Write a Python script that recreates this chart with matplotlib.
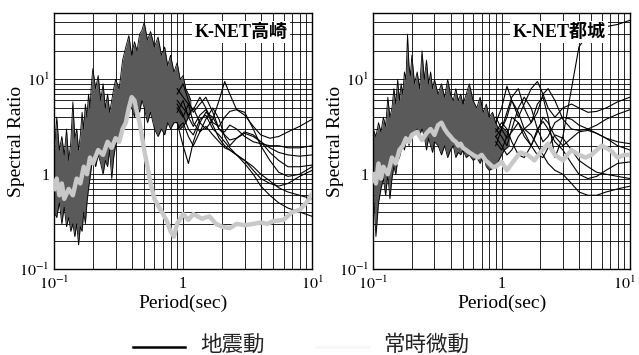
import matplotlib
matplotlib.use("Agg")
import matplotlib.pyplot as plt
from matplotlib.lines import Line2D
from matplotlib.transforms import ScaledTranslation

plt.rcParams['font.family'] = ['Liberation Serif', 'Noto Sans CJK JP']
plt.rcParams['mathtext.fontset'] = 'stix'

# periods (sec) of the dense short-period band
band_T = [0.10, 0.105, 0.11, 0.115, 0.12, 0.125, 0.13, 0.135, 0.14, 0.145,
          0.15, 0.155, 0.16, 0.165, 0.17, 0.175, 0.18, 0.185, 0.19, 0.195,
          0.20, 0.21, 0.22, 0.23, 0.24, 0.25, 0.26, 0.27, 0.28, 0.29,
          0.30, 0.32, 0.34, 0.36, 0.38, 0.40, 0.42, 0.44, 0.46, 0.48,
          0.50, 0.53, 0.56, 0.60, 0.64, 0.68, 0.72, 0.76, 0.80, 0.85,
          0.90, 0.95, 1.00, 1.05, 1.10, 1.15]

# Takasaki - earthquake band envelope
tk_band_hi = [1.5, 4.0, 1.8, 2.5, 1.6, 3.0, 1.4, 2.2, 5.8, 2.4,
              3.0, 1.8, 2.6, 4.5, 3.0, 5.5, 4.0, 7.0, 5.0, 9.0,
              13, 8, 11, 6, 9, 5, 7, 4.5, 6, 8,
              10, 8, 16, 22, 29, 18, 25, 20, 30, 33,
              40, 26, 32, 22, 28, 18, 22, 14, 18, 12,
              15, 10, 11, 8, 7, 6]
tk_band_lo = [0.4, 0.35, 0.5, 0.3, 0.45, 0.28, 0.35, 0.25, 0.3, 0.22,
              0.3, 0.18, 0.28, 0.25, 0.4, 0.3, 0.5, 0.7, 0.9, 1.2,
              1.5, 1.2, 1.6, 1.3, 1.0, 1.4, 1.2, 1.8, 0.9, 1.5,
              2.0, 2.5, 3.0, 4.0, 5.0, 5.0, 4.0, 5.5, 4.5, 6.0,
              5.0, 3.5, 4.5, 3.0, 2.5, 3.0, 2.6, 3.5, 3.0, 3.5,
              3.5, 3.0, 3.2, 3.5, 4.0, 4.5]

# Miyakonojo - earthquake band envelope
my_band_hi = [3.0, 2.5, 3.5, 2.8, 4.0, 3.2, 6.5, 4.0, 5.0, 8.0,
              5.5, 10, 6.0, 9.0, 7.0, 12, 10, 30, 14, 11,
              18, 9, 12, 8, 20, 10, 16, 9, 12, 8,
              10, 7, 9, 6.5, 10, 7, 6, 8, 6, 7,
              5.5, 7, 9, 6, 5, 6.5, 4.5, 5.5, 4, 4.5,
              3.5, 3.0, 3.2, 3.0, 2.8, 2.6]
my_band_lo = [0.8, 0.22, 0.5, 0.7, 0.9, 0.6, 1.0, 0.55, 0.9, 1.2,
              1.0, 1.4, 1.5, 1.8, 2.0, 1.8, 2.2, 2.5, 2.0, 2.6,
              2.4, 2.8, 3.0, 2.6, 3.0, 2.5, 1.8, 2.4, 2.0, 1.7,
              2.2, 2.0, 1.6, 2.0, 1.5, 1.8, 2.0, 1.5, 1.7, 1.6,
              1.8, 1.5, 1.6, 1.4, 1.5, 1.3, 1.6, 1.2, 1.1, 1.15,
              1.2, 1.4, 1.6, 1.8, 1.9, 2.0]

# periods of the individual long-period earthquake curves
long_T = [0.9, 1.0, 1.1, 1.2, 1.35, 1.5, 1.7, 1.9, 2.1, 2.3,
          2.6, 3.0, 3.5, 4.0, 4.7, 5.5, 6.5, 8.0, 10.0]

tk_long = [
    [6.0, 5.0, 4.2, 5.0, 3.5, 3.0, 3.8, 6.0, 9.5, 7.0, 4.8, 4.5, 3.0, 2.0, 1.4, 1.05, 0.95, 1.0, 1.2],
    [8.0, 6.5, 5.5, 4.8, 6.5, 5.0, 3.5, 3.2, 4.0, 4.6, 4.8, 4.2, 3.2, 2.6, 2.4, 2.5, 2.8, 3.2, 3.8],
    [3.5, 2.0, 1.3, 2.2, 3.5, 4.5, 4.0, 3.0, 2.6, 2.3, 2.4, 2.8, 2.6, 2.2, 1.7, 1.4, 1.2, 1.2, 1.25],
    [7.0, 9.0, 6.0, 4.5, 5.5, 6.5, 4.5, 3.0, 2.8, 3.3, 3.0, 2.5, 2.2, 2.1, 2.0, 2.0, 1.9, 1.9, 2.0],
    [5.0, 4.0, 5.5, 3.5, 2.8, 3.8, 5.0, 3.8, 2.5, 2.0, 2.4, 2.7, 2.5, 2.2, 1.9, 1.7, 1.6, 1.55, 1.6],
    [4.5, 6.0, 4.0, 3.2, 4.2, 4.8, 3.3, 2.4, 2.0, 1.8, 1.6, 1.4, 1.2, 1.0, 0.85, 0.72, 0.65, 0.6, 0.55],
    [3.0, 3.5, 2.5, 2.0, 2.8, 3.2, 2.6, 2.2, 1.9, 1.8, 1.6, 1.3, 1.0, 0.75, 0.6, 0.5, 0.44, 0.4, 0.36],
    [5.5, 4.2, 3.0, 2.6, 3.8, 4.2, 3.0, 2.6, 2.2, 1.9, 1.6, 1.4, 1.1, 0.9, 0.8, 0.75, 0.8, 0.95, 1.1],
]

my_long = [
    [2.5, 3.0, 4.0, 6.0, 4.5, 3.0, 3.5, 5.5, 6.5, 4.0, 1.5, 2.5, 8.0, 22, 30, 33, 36, 38, 42],
    [3.5, 5.0, 8.5, 6.0, 4.0, 5.5, 8.0, 9.5, 7.0, 5.0, 4.0, 5.0, 5.5, 5.0, 4.5, 4.6, 5.0, 5.8, 6.5],
    [2.0, 3.0, 4.5, 6.5, 8.0, 5.0, 3.5, 4.5, 7.0, 8.0, 6.0, 3.8, 3.0, 2.9, 3.0, 3.3, 3.8, 4.3, 4.8],
    [3.0, 2.5, 2.0, 3.0, 5.0, 6.5, 5.0, 3.0, 2.2, 2.5, 3.5, 4.0, 3.8, 3.3, 3.0, 2.7, 2.4, 2.2, 2.1],
    [2.2, 1.8, 2.5, 4.0, 3.5, 2.5, 2.0, 2.8, 4.0, 3.5, 2.5, 2.0, 2.4, 2.8, 2.9, 2.7, 2.4, 2.0, 1.8],
    [2.8, 3.5, 3.0, 2.2, 1.6, 1.5, 2.0, 3.0, 3.6, 3.0, 2.2, 1.8, 1.3, 1.0, 0.9, 0.95, 1.1, 1.3, 1.35],
    [2.5, 2.0, 1.6, 1.8, 2.5, 3.0, 2.6, 2.0, 1.6, 1.3, 1.1, 1.0, 0.8, 0.65, 0.6, 0.6, 0.65, 0.7, 0.75],
    [4.0, 3.0, 2.4, 2.8, 3.5, 2.8, 2.0, 1.6, 1.5, 1.9, 2.6, 2.4, 1.8, 1.4, 1.2, 1.05, 1.0, 0.95, 0.9],
]

# microtremor H/V
mt_T = [0.10, 0.105, 0.11, 0.115, 0.12, 0.13, 0.14, 0.15, 0.16, 0.17,
        0.18, 0.19, 0.20, 0.22, 0.24, 0.26, 0.28, 0.30, 0.32, 0.34,
        0.36, 0.38, 0.40, 0.42, 0.44, 0.46, 0.48, 0.50, 0.53, 0.56,
        0.60, 0.65, 0.70, 0.75, 0.80, 0.85, 0.90, 1.0, 1.1, 1.2,
        1.4, 1.6, 1.8, 2.0, 2.3, 2.6, 3.0, 3.5, 4.0, 4.5,
        5.0, 6.0, 7.0, 8.0, 9.0, 10.0]
tk_mt = [0.7, 0.9, 0.6, 0.8, 0.55, 0.7, 0.6, 0.9, 0.8, 1.2,
         1.0, 1.5, 1.3, 1.8, 1.6, 2.2, 1.9, 2.4, 2.2, 3.0,
         3.5, 5.0, 6.5, 6.0, 4.5, 3.5, 2.5, 1.8, 1.2, 0.8,
         0.55, 0.45, 0.38, 0.32, 0.25, 0.22, 0.3, 0.38, 0.33, 0.38,
         0.34, 0.36, 0.3, 0.28, 0.27, 0.3, 0.29, 0.3, 0.31, 0.3,
         0.32, 0.33, 0.4, 0.42, 0.5, 0.62]
my_mt = [1.0, 0.8, 1.3, 0.9, 1.2, 1.0, 1.5, 1.3, 1.8, 2.0,
         2.4, 2.2, 2.6, 2.8, 2.3, 2.7, 3.0, 2.6, 3.3, 3.5,
         3.0, 2.7, 2.5, 2.3, 2.2, 2.0, 2.1, 1.9, 1.8, 1.7,
         1.6, 1.5, 1.6, 1.4, 1.3, 1.2, 1.2, 1.35, 1.1, 1.3,
         1.7, 1.6, 1.4, 1.7, 2.1, 1.6, 1.4, 1.8, 1.6, 1.5,
         1.6, 2.0, 1.8, 1.5, 1.6, 1.6]

stations = ['K-NET高崎', 'K-NET都城']
panels = [(tk_band_lo, tk_band_hi, tk_long, tk_mt),
          (my_band_lo, my_band_hi, my_long, my_mt)]
legend_labels = ['地震動', '常時微動']

fig = plt.figure(figsize=(6.39, 3.55), dpi=100)
positions = [[0.0845, 0.242, 0.404, 0.721], [0.584, 0.242, 0.402, 0.721]]
cjk = ['Noto Sans CJK JP']

axes = []
for pos, name, (lo, hi, longs, mt) in zip(positions, stations, panels):
    ax = fig.add_axes(pos)
    axes.append(ax)
    ax.set_xscale('log')
    ax.set_yscale('log')
    ax.set_xlim(0.1, 10)
    ax.set_ylim(0.1, 50)
    ax.grid(True, which='both', color='black', lw=0.6)
    ax.set_axisbelow(True)

    ax.fill_between(band_T, lo, hi, color='#5a5a5a', lw=0, zorder=2)
    ax.plot(band_T, hi, color='black', lw=0.6, zorder=3)
    ax.plot(band_T, lo, color='black', lw=0.6, zorder=3)
    for vals in longs:
        ax.plot(long_T, vals, color='black', lw=0.8, zorder=3)
    ax.plot(mt_T, mt, color='#c8c8c8', lw=3.2, zorder=4)

    ax.set_xticks([0.1, 1, 10])
    ax.set_xticklabels([r'$10^{-1}$', '1', r'$10^{1}$'])
    ax.set_yticks([0.1, 1, 10])
    ax.set_yticklabels([r'$10^{-1}$', '1', r'$10^{1}$'])
    ax.tick_params(which='both', length=0, labelsize=11.5)
    ax.tick_params(axis='x', pad=5)
    ax.tick_params(axis='y', pad=3)
    for sp in ax.spines.values():
        sp.set_color('black')
        sp.set_linewidth(1)
    ax.set_xlabel('Period(sec)', fontsize=14, labelpad=1)
    ax.set_ylabel('Spectral Ratio', fontsize=14)
    ax.yaxis.set_label_coords(-0.112, 0.5)
    ax.text(0.905, 0.926, name, transform=ax.transAxes, ha='right', va='center',
            fontsize=13, fontweight='bold', zorder=6,
            bbox=dict(facecolor='white', edgecolor='none', pad=1.5))

# keep the last tick label of the right panel inside the picture
last = axes[1].get_xticklabels()[-1]
last.set_transform(last.get_transform() + ScaledTranslation(-4 / 72, 0, fig.dpi_scale_trans))

# legend drawn under the panels
fig.add_artist(Line2D([0.208, 0.290], [0.022, 0.022], color='black', lw=1.8,
                      transform=fig.transFigure))
fig.add_artist(Line2D([0.495, 0.577], [0.022, 0.022], color='#f6f6f6', lw=1.8,
                      transform=fig.transFigure))
fig.text(0.313, 0.028, legend_labels[0], family=cjk, fontsize=15.5,
         color='#222222', va='center', ha='left')
fig.text(0.599, 0.028, legend_labels[1], family=cjk, fontsize=15.5,
         color='#222222', va='center', ha='left')

fig.savefig('out.png', dpi=100)
